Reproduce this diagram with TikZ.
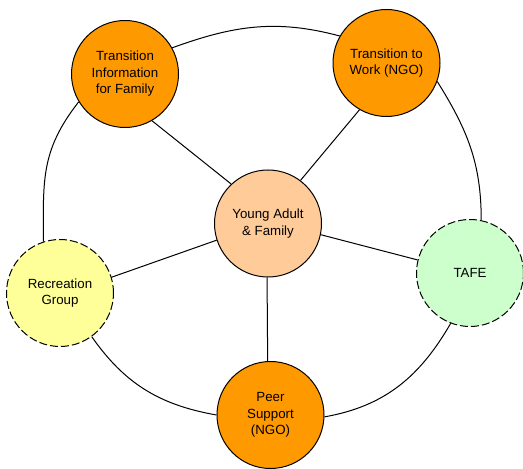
\documentclass[tikz,border=0pt]{standalone}
\usepackage{fontspec}
\setmainfont{Liberation Sans}
\usepackage{tikz}
\usetikzlibrary{positioning}
\definecolor{svcorange}{RGB}{255,153,0}
\definecolor{svcpeach}{RGB}{255,204,153}
\definecolor{svcgreen}{RGB}{204,255,204}
\definecolor{svcyellow}{RGB}{255,255,153}
\tikzset{
	support map/.style={
		x=1pt, y=1pt,
		line width=1pt,
		every node/.style={font=\fontsize{13.3}{16.5}\selectfont, align=center},
		link/.style={draw, line width=1pt}
		},
	svc/.style={circle, draw, line width=1pt, minimum size=107pt, inner sep=0pt, fill=#1},
	svc/.default=svcorange,
	svc opt/.style={svc=#1, dash pattern=on 8pt off 3pt}
}

\begin{document}
\begin{tikzpicture}[support map]
   \useasboundingbox (0,0) rectangle (523,469);
   \node[svc=svcpeach] (YA) at (268,245.5) {Young Adult\\\& Family};
   \node[svc] (TIF) at (125,395) {Transition\\Information\\for Family};
   \node[svc] (TTW) at (386.5,406) {Transition to\\Work (NGO)};
   \node[svc opt=svcgreen] (TAFE) at (470,196) {TAFE};
   \node[svc opt=svcyellow] (REC) at (60,176) {Recreation\\Group};
   \node[svc] (PEER) at (270.5,54) {Peer\\Support\\(NGO)};
   % spokes
   \draw[link] (TIF.-60) -- (YA.133);
   \draw[link] (TTW.-120) -- (YA.53);
   \draw[link] (REC.17) -- (YA.-162);
   \draw[link] (TAFE.166) -- (YA.-12);
   \draw[link] (PEER.93) -- (YA.-91);
   % outer ring
   \draw[link] (TIF.29) to[out=20,in=165] (TTW.150);
   \draw[link] (TTW.-20) to[out=-58,in=90] (TAFE.78);
   \draw[link] (TAFE.-111) to[out=-120,in=10] (PEER.-2);
   \draw[link] (PEER.180) to[out=170,in=-55] (REC.-54);
   \draw[link] (REC.108) to[out=90,in=-128,looseness=1.1] (TIF.-149);
\end{tikzpicture}
\end{document}
